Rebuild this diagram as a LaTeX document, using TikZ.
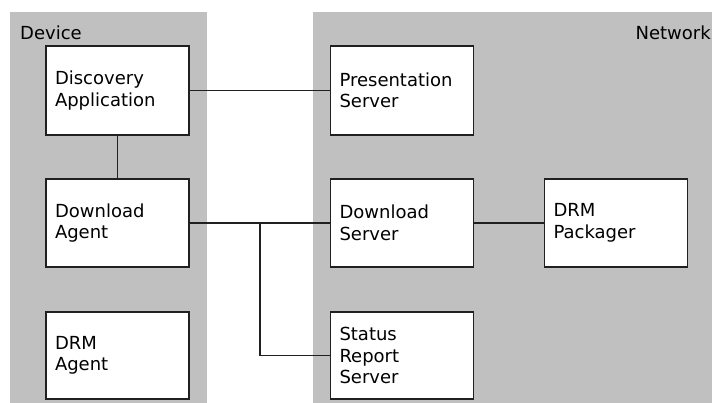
\documentclass[tikz,border=0pt]{standalone}
\usepackage{fontspec}
\setmainfont{DejaVu Sans}
\definecolor{panelgray}{HTML}{C0C0C0}
\definecolor{edge}{HTML}{202020}
\tikzset{
  panel/.style={fill=panelgray, draw=none},
  comp/.style={draw=edge, fill=white, line width=1.2pt, minimum width=143pt, minimum height=89pt,
    text width=125pt, inner xsep=9pt, inner ysep=0pt, align=left,
    font=\fontsize{18}{21.5}\selectfont},
  lbl/.style={font=\fontsize{18}{21.5}\selectfont, inner sep=0pt},
  link/.style={draw=edge, line width=1.2pt}
}
\begin{document}
\begin{tikzpicture}[x=1pt,y=-1pt]
\useasboundingbox (0,0) rectangle (712,403);
\fill[panel] (10,12) rectangle (207,403);
\fill[panel] (313,12) rectangle (712,403);
\node[lbl, anchor=base west] (dev) at (20,40) {Device};
\node[lbl, anchor=base east] (net) at (711,40) {Network};
\node[comp] (disc) at (117.5,90.5) {Discovery\\Application};
\node[comp, minimum height=88pt] (dla) at (117.5,223) {Download\\Agent};
\node[comp, minimum height=87pt] (drma) at (117.5,355.5) {DRM\\Agent};
\node[comp] (pres) at (402,90.5) {Presentation\\Server};
\node[comp, minimum height=88pt] (dls) at (402,223) {Download\\Server};
\node[comp, minimum height=88pt] (drmp) at (616,223) {DRM\\Packager};
\node[comp, minimum height=87pt] (srs) at (402,355.5) {Status\\Report\\Server};
\coordinate (j) at (260,223);
\draw[link] (disc.east) -- (pres.west);
\draw[link] (disc.south) -- (dla.north);
\draw[link] (dla.east) -- (dls.west);
\draw[link] (dls.east) -- (drmp.west);
\draw[link] (j) |- (srs.west);
\end{tikzpicture}
\end{document}
